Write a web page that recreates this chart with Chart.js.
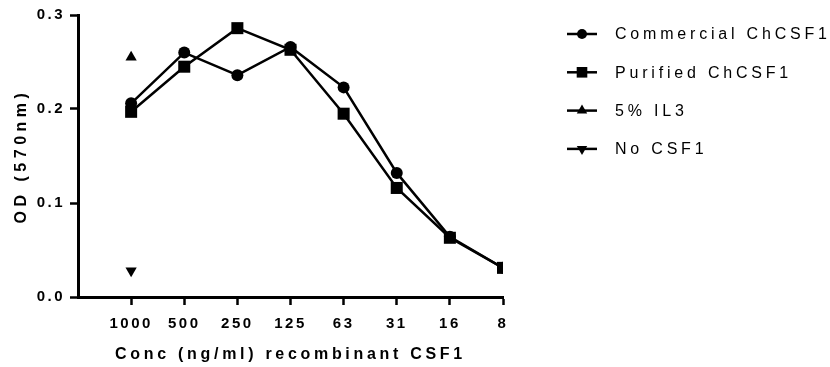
<!DOCTYPE html>
<html>
<head>
<meta charset="utf-8">
<script src="https://cdn.jsdelivr.net/npm/chart.js@4.4.1/dist/chart.umd.min.js"></script>
<style>
    html, body { margin: 0; padding: 0; background: #fff; }
    #wrap { width: 830px; height: 367px; position: relative; }
</style>
</head>
<body>
<div id="wrap"><canvas id="chart"></canvas></div>
<script>
const doses = ['1000', '500', '250', '125', '63', '31', '16', '8'];
const commercial = [0.206, 0.260, 0.236, 0.266, 0.223, 0.132, 0.064, 0.031];
const purified = [0.197, 0.245, 0.286, 0.263, 0.195, 0.116, 0.063, 0.031];
const il3 = [0.255];
const noCsf1 = [0.028];
const yTicks = [0, 0.1, 0.2, 0.3];
const seriesNames = ['Commercial ChCSF1', 'Purified ChCSF1', '5% IL3', 'No CSF1'];

const FONT = "'Liberation Sans', Arial, sans-serif";
const TICK_SPACING = '2.5px';
const toPoints = (values) => values.map((v, i) => ({ x: i + 1, y: v }));

const baseSet = {
    borderColor: '#000',
    backgroundColor: '#000',
    borderWidth: 2.5,
    pointBorderWidth: 0,
    pointHoverRadius: 0,
};

// letter spaced text, like the Prism export
const spacingPlugin = {
    id: 'spacing',
    beforeLayout(chart) { chart.ctx.letterSpacing = TICK_SPACING; },
    beforeDraw(chart) { chart.ctx.letterSpacing = TICK_SPACING; },
};

// axis titles are spaced wider than the tick labels
const spaceTitle = (scale, spacing) => {
    if (scale._spacedTitle) return;
    const drawTitle = scale.drawTitle;
    scale.drawTitle = function () {
        this.ctx.letterSpacing = spacing;
        drawTitle.call(this);
        this.ctx.letterSpacing = TICK_SPACING;
    };
    scale._spacedTitle = true;
};

const drawMarker = (ctx, style, x, y, r, rotation) => {
    ctx.beginPath();
    if (style === 'circle') {
        ctx.arc(x, y, r, 0, Math.PI * 2);
    } else if (style === 'rect') {
        const s = r * Math.SQRT1_2;
        ctx.rect(x - s, y - s, s * 2, s * 2);
    } else {
        const dir = rotation ? -1 : 1;
        ctx.moveTo(x, y - dir * r);
        ctx.lineTo(x + r * 0.87, y + dir * r * 0.5);
        ctx.lineTo(x - r * 0.87, y + dir * r * 0.5);
        ctx.closePath();
    }
    ctx.fill();
};

const legendPlugin = {
    id: 'sideLegend',
    afterDraw(chart) {
        const ctx = chart.ctx;
        ctx.save();
        ctx.letterSpacing = '3.8px';
        ctx.font = '16px ' + FONT;
        ctx.textBaseline = 'middle';
        ctx.fillStyle = '#000';
        ctx.strokeStyle = '#000';
        chart.data.datasets.forEach((ds, i) => {
            const y = 34 + i * 38.3;
            ctx.lineWidth = 2.5;
            ctx.beginPath();
            ctx.moveTo(567, y);
            ctx.lineTo(597, y);
            ctx.stroke();
            drawMarker(ctx, ds.pointStyle, 582, y, ds.legendRadius, ds.pointRotation);
            ctx.fillText(ds.label, 615, y + 1);
        });
        ctx.restore();
    },
};

new Chart(document.getElementById('chart'), {
    type: 'line',
    data: {
        datasets: [
            { ...baseSet, label: seriesNames[0], data: toPoints(commercial), pointStyle: 'circle', pointRadius: 6, legendRadius: 5 },
            { ...baseSet, label: seriesNames[1], data: toPoints(purified), pointStyle: 'rect', pointRadius: 8.5, legendRadius: 7.5 },
            { ...baseSet, label: seriesNames[2], data: toPoints(il3), pointStyle: 'triangle', pointRadius: 6.5, legendRadius: 6, showLine: false },
            { ...baseSet, label: seriesNames[3], data: toPoints(noCsf1), pointStyle: 'triangle', pointRotation: 180, pointRadius: 6.5, legendRadius: 6, showLine: false },
        ],
    },
    options: {
        responsive: true,
        maintainAspectRatio: false,
        animation: false,
        events: [],
        layout: { padding: { left: 0, top: 15, right: 327, bottom: 0 } },
        plugins: { legend: { display: false }, tooltip: { enabled: false } },
        scales: {
            x: {
                type: 'linear',
                min: 0,
                max: 8,
                afterBuildTicks: (scale) => { scale.ticks = doses.map((d, i) => ({ value: i + 1 })); },
                afterFit: (scale) => {
                    scale.height = 70;
                    spaceTitle(scale, '3.7px');
                },
                ticks: {
                    callback: (v) => doses[v - 1],
                    color: '#000',
                    font: { family: FONT, size: 15, weight: 'bold' },
                    padding: 10,
                    maxRotation: 0,
                    autoSkip: false,
                },
                grid: { drawOnChartArea: false, tickLength: 8, tickWidth: 2.5, tickColor: '#000', color: '#000' },
                border: { display: true, color: '#000', width: 3 },
                title: {
                    display: true,
                    text: 'Conc (ng/ml) recombinant CSF1',
                    color: '#000',
                    font: { family: FONT, size: 16, weight: 'bold' },
                    padding: { bottom: 3 },
                },
            },
            y: {
                min: 0,
                max: 0.3,
                afterBuildTicks: (scale) => { scale.ticks = yTicks.map((v) => ({ value: v })); },
                afterFit: (scale) => {
                    scale.width = 78;
                    spaceTitle(scale, '4.5px');
                },
                ticks: {
                    callback: (v) => v.toFixed(1),
                    color: '#000',
                    font: { family: FONT, size: 15, weight: 'bold' },
                    padding: 5,
                },
                grid: { drawOnChartArea: false, tickLength: 8, tickWidth: 2.5, tickColor: '#000', color: '#000' },
                border: { display: true, color: '#000', width: 3 },
                title: {
                    display: true,
                    text: 'OD (570nm)',
                    color: '#000',
                    font: { family: FONT, size: 16, weight: 'bold' },
                    padding: { top: 12 },
                },
            },
        },
    },
    plugins: [spacingPlugin, legendPlugin],
});
</script>
</body>
</html>
